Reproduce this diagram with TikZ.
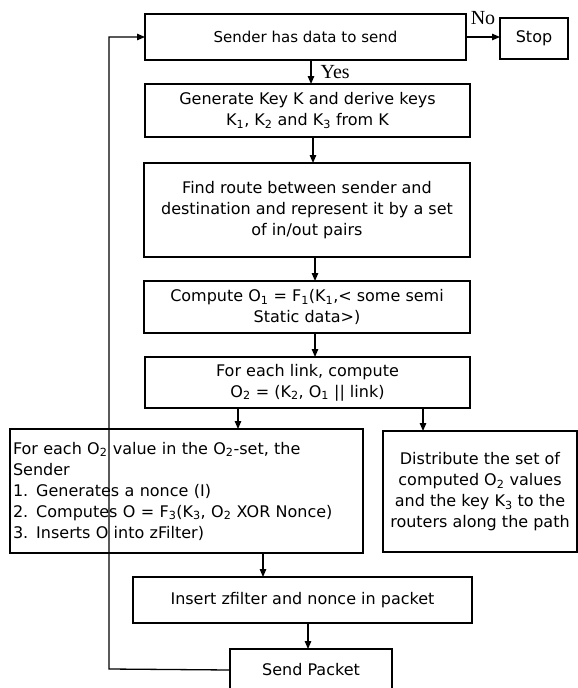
\documentclass[tikz,border=0pt]{standalone}
\usepackage{fontspec}
\setmainfont{DejaVu Sans}
\newfontfamily\labfont{Liberation Serif}
\usetikzlibrary{arrows.meta, positioning}
\newcommand{\sbs}[1]{\textsubscript{#1}}
\tikzset{
  box/.style  = {draw, line width=1.3pt, inner sep=3pt, outer sep=0pt,
                 align=center, font=\fontsize{16}{21}\selectfont},
  lbox/.style = {box, align=left},
  arr/.style  = {-{Triangle[length=8pt, width=6.5pt]}, line width=1.3pt},
  labl/.style = {font=\labfont\fontsize{20}{20}\selectfont, inner sep=0pt},
}
\begin{document}
\begin{tikzpicture}[x=1pt, y=1pt]
  \useasboundingbox (0,0) rectangle (578,-688);

  % start / stop
  \node[box, minimum width=321pt, minimum height=46pt,
        font=\fontsize{15}{21}\selectfont] (send) at (305.5,-37)
    {Sender has data to send};
  \node[box, minimum width=68pt, minimum height=41pt,
        right=34pt of send, yshift=-1.5pt] (stop) {Stop};

  % main column
  \node[box, minimum width=325pt, minimum height=53pt,
        below=24pt of send, xshift=2pt] (genkey)
    {Generate Key K and derive keys\\
     K\sbs{1}, K\sbs{2} and K\sbs{3} from K};
  \node[box, minimum width=326pt, minimum height=94pt,
        below=26pt of genkey, xshift=-0.5pt] (route)
    {Find route between sender and\\
     destination and represent it by a set\\
     of in/out pairs};
  \node[box, minimum width=326pt, minimum height=52pt,
        below=24pt of route] (comp1)
    {Compute O\sbs{1} = F\sbs{1}(K\sbs{1},< some semi\\
     Static data>)};
  \node[box, minimum width=325pt, minimum height=51pt,
        below=24pt of comp1, xshift=0.5pt] (link)
    {For each link, compute\\
     O\sbs{2} = (K\sbs{2}, O\sbs{1} || link)};

  % split
  \node[lbox, text width=347pt, minimum height=124pt,
        below=21pt of link, xshift=-121pt] (each)
    {For each O\sbs{2} value in the O\sbs{2}-set, the\\
     Sender\\
     1. Generates a nonce (I)\\
     2. Computes O = F\sbs{3}(K\sbs{3}, O\sbs{2} XOR Nonce)\\
     3. Inserts O into zFilter)};
  \node[box, minimum width=194pt, minimum height=121pt,
        below=23pt of link, xshift=172.5pt] (dist)
    {Distribute the set of\\
     computed O\sbs{2} values\\
     and the key K\sbs{3} to the\\
     routers along the path};

  % packet
  \node[box, minimum width=339pt, minimum height=46pt,
        below=24pt of each, xshift=116pt] (insert)
    {Insert zfilter and nonce in packet};
  \node[box, minimum width=162pt, minimum height=42pt,
        below=26pt of insert, xshift=8.5pt] (sendpkt) {Send Packet};

  \draw[arr] (send.east) -- (stop.west |- send.east)
    node[midway, labl, above=12pt] {No};
  \draw[arr] ([xshift=5.5pt]send.south) -- ([xshift=5.5pt]send.south |- genkey.north)
    node[midway, labl, right=9pt] {Yes};
  \draw[arr] ([xshift=5.5pt]genkey.south) -- ([xshift=5.5pt]genkey.south |- route.north);
  \draw[arr] ([xshift=8pt]route.south) -- ([xshift=8pt]route.south |- comp1.north);
  \draw[arr] ([xshift=8pt]comp1.south) -- ([xshift=8pt]comp1.south |- link.north);
  \draw[arr] ([xshift=51.5pt]each.north |- link.south) -- ([xshift=51.5pt]each.north);
  \draw[arr] ([xshift=-57pt]dist.north |- link.south) -- ([xshift=-57pt]dist.north);
  \draw[arr] ([xshift=-39.5pt]insert.north |- each.south) -- ([xshift=-39.5pt]insert.north);
  \draw[arr] ([xshift=-3pt]sendpkt.north |- insert.south) -- ([xshift=-3pt]sendpkt.north);

  % loop back
  \coordinate (back) at (109,-669);
  \draw[arr] (sendpkt.west) -- (back) |- (send.west);

\end{tikzpicture}
\end{document}
